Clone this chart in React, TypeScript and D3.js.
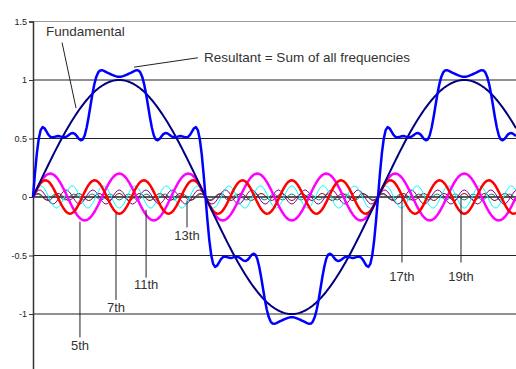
import React from "react";
import * as d3 from "d3";

// harmonic content of the six-step wave
const harmonicNames = ["Fundamental", "5th", "7th", "11th", "13th", "17th", "19th"];
const harmonicOrders = [1, 5, 7, 11, 13, 17, 19];
const harmonicAmplitudes = [1, 0.2, 0.143, 0.095, 0.06, 0.03, 0.025];
const yTicks = [-1.5, -1, -0.5, 0, 0.5, 1, 1.5];
const gridValues = [-1, -0.5, 0, 0.5, 1];
const angleRange = [0, 504];

const colors = {
  "Fundamental": "#000080",
  "5th": "#ff00ff",
  "7th": "#ff0000",
  "11th": "#00ffff",
  "13th": "#800080",
  "17th": "#800000",
  "19th": "#008080",
  resultant: "#0000ff",
};
const widths = { "Fundamental": 2, "5th": 2.5, "7th": 2.5, "11th": 1, "13th": 1, "17th": 1, "19th": 1, resultant: 2.5 };

// call-outs in data units
const labelCallouts = [
  { name: "5th", angle: 49, from: -0.21, to: -1.2, textY: -1.31 },
  { name: "7th", angle: 86.6, from: -0.14, to: -0.88, textY: -0.98 },
  { name: "11th", angle: 118, from: -0.11, to: -0.69, textY: -0.79 },
  { name: "13th", angle: 160.7, from: -0.03, to: -0.26, textY: -0.37 },
  { name: "17th", angle: 385, from: 0, to: -0.56, textY: -0.72 },
  { name: "19th", angle: 446.6, from: 0, to: -0.56, textY: -0.72 },
];

const rad = (deg) => (deg * Math.PI) / 180;
const sampleAngles = d3.range(angleRange[0], angleRange[1] + 1, 2);

const App = () => {
  const ref = React.useRef(null);
  const dimension = { x: 516, y: 369 };
  const margin = { left: 33, top: 21.5 };

  React.useEffect(() => {
    const selection = d3.select(ref.current);
    selection.selectAll("*").remove();
    const xScale = d3.scaleLinear(angleRange, [margin.left, margin.left + 483]);
    const yScale = d3.scaleLinear([1.5, -1.5], [margin.top, margin.top + 351]);

    // top border + grid
    selection.append("line")
      .attr("x1", margin.left).attr("x2", dimension.x)
      .attr("y1", yScale(1.5)).attr("y2", yScale(1.5))
      .attr("stroke", "#999").attr("stroke-width", 1.2);
    selection.selectAll(".grid").data(gridValues).join("line")
      .attr("class", "grid")
      .attr("x1", margin.left).attr("x2", dimension.x)
      .attr("y1", d => yScale(d)).attr("y2", d => yScale(d))
      .attr("stroke", "#222").attr("stroke-width", d => d === 0 ? 1.5 : 1.2);

    // y axis
    const axis = selection.append("g").attr("transform", `translate(${margin.left},0)`)
      .call(d3.axisLeft(yScale).tickValues(yTicks).tickSize(4).tickFormat(d => String(d)));
    axis.select(".domain").attr("stroke", "#333").attr("stroke-width", 1.5);
    axis.selectAll(".tick line").attr("stroke", "#333");
    axis.selectAll("text").attr("font-family", "Liberation Sans, Arial, sans-serif")
      .attr("font-size", 9).attr("fill", "#222").attr("x", -6);

    const line = d3.line().x(d => xScale(d[0])).y(d => yScale(d[1]));

    // harmonics, small ones first so the big ones sit on top
    const order = [6, 5, 4, 3, 1, 2, 0];
    order.forEach(i => {
      const name = harmonicNames[i];
      const pts = sampleAngles.map(a => [a, harmonicAmplitudes[i] * Math.sin(harmonicOrders[i] * rad(a))]);
      selection.append("path").attr("d", line(pts))
        .attr("fill", "none").attr("stroke", colors[name]).attr("stroke-width", widths[name])
        .attr("stroke-linejoin", "round");
    });

    const sumPts = sampleAngles.map(a => [a, d3.sum(harmonicOrders, (n, i) => harmonicAmplitudes[i] * Math.sin(n * rad(a)))]);
    selection.append("path").attr("d", line(sumPts))
      .attr("fill", "none").attr("stroke", colors.resultant).attr("stroke-width", widths.resultant)
      .attr("stroke-linejoin", "round");

    const font = "Liberation Sans, Arial, sans-serif";
    // call-outs
    selection.selectAll(".callout").data(labelCallouts).join("line")
      .attr("class", "callout")
      .attr("x1", d => xScale(d.angle)).attr("x2", d => xScale(d.angle))
      .attr("y1", d => yScale(d.from)).attr("y2", d => yScale(d.to))
      .attr("stroke", "#222").attr("stroke-width", 1);
    selection.selectAll(".calltext").data(labelCallouts).join("text")
      .attr("class", "calltext")
      .attr("x", d => xScale(d.angle)).attr("y", d => yScale(d.textY))
      .attr("text-anchor", "middle").attr("font-family", font).attr("font-size", 13)
      .attr("fill", "#333").text(d => d.name);

    selection.append("line")
      .attr("x1", xScale(30.3)).attr("y1", yScale(1.32))
      .attr("x2", xScale(44.9)).attr("y2", yScale(0.76))
      .attr("stroke", "#222").attr("stroke-width", 1);
    selection.append("text").attr("x", xScale(13.6)).attr("y", yScale(1.375))
      .attr("font-family", font).attr("font-size", 13.5).attr("fill", "#333").text("Fundamental");

    selection.append("line")
      .attr("x1", xScale(105.4)).attr("y1", yScale(1.11))
      .attr("x2", xScale(172)).attr("y2", yScale(1.19))
      .attr("stroke", "#222").attr("stroke-width", 1);
    selection.append("text").attr("x", xScale(178.4)).attr("y", yScale(1.155))
      .attr("font-family", font).attr("font-size", 13.5).attr("fill", "#333")
      .text("Resultant = Sum of all frequencies");
  }, []);

  return (
    <svg width={dimension.x} height={dimension.y} ref={ref}
      style={{ position: "absolute", left: 0, top: 0, background: "#fff" }} />
  );
};

export default App;
